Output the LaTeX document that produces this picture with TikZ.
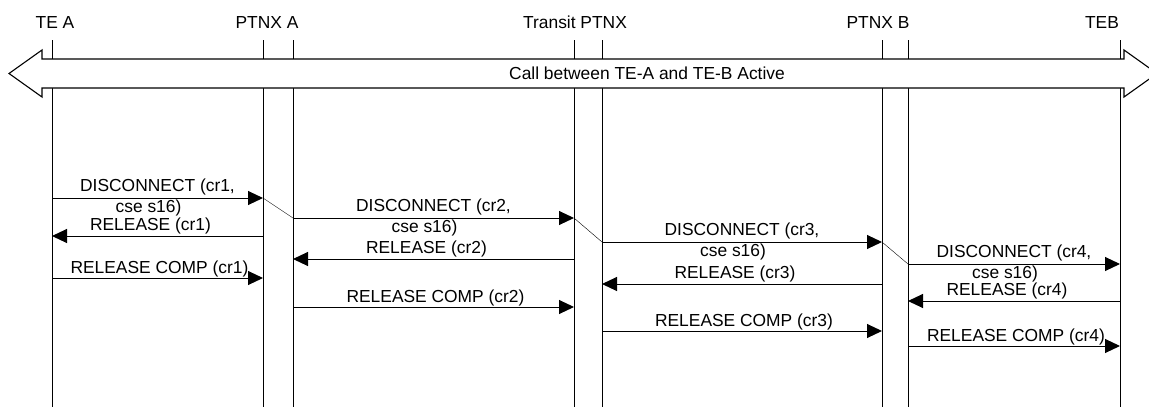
\documentclass[tikz,border=0pt]{standalone}
\usepackage{fontspec}
\setmainfont{Liberation Sans}
\usetikzlibrary{arrows.meta}

\begin{document}
\begin{tikzpicture}[x=1pt, y=-1pt,
  every node/.style={font=\fontsize{17.4}{20}\selectfont, inner sep=0pt},
  life/.style={draw=black, line width=0.7pt},
  band/.style={draw=black, line width=1.1pt, fill=white, line join=miter},
  msg/.style ={-{Triangle[length=15pt,width=14pt]}, line width=1pt},
  hop/.style ={draw=black, line width=0.4pt},
]

\useasboundingbox (0,0) rectangle (1149,407);

%% ─── Lifelines ───────────────────────────────────────────────────────────────
\foreach \n/\x in {TEA/52, PAl/263, PAr/293, TPl/574, TPr/602, PBl/882, PBr/908, TEB/1120} {
  \coordinate (\n) at (\x,40);
  \draw[life] (\n) -- (\x,407);
}

%% ─── Entity names ────────────────────────────────────────────────────────────
\node[anchor=base] (hTEA) at (55,28)   {TE A};
\node[anchor=base] (hPA)  at (267,28)  {PTNX A};
\node[anchor=base] (hTP)  at (575,28)  {Transit PTNX};
\node[anchor=base] (hPB)  at (878,28)  {PTNX B};
\node[anchor=base] (hTEB) at (1102,28) {TEB};

%% ─── Active call (hollow double arrow over the lifelines) ────────────────────
\draw[band] (9,73.5) -- (42,50) -- (42,59) -- (1124,59) -- (1124,50) -- (1157,73.5)
  -- (1124,97) -- (1124,88) -- (42,88) -- (42,97) -- cycle;
\node (call) at (647,73.5) {Call between TE-A and TE-B Active};

%% ─── Clearing, one hop at a time ─────────────────────────────────────────────
\foreach \a/\b/\k/\yd/\yr/\yc in {TEA/PAl/1/198/236/278, PAr/TPl/2/218/259/307,
                                  TPr/PBl/3/242/284/331, PBr/TEB/4/264/301/346} {
  % DISCONNECT forward
  \draw[msg] (\a |- 0,\yd) coordinate (ds\k)
    -- node[anchor=base, yshift=7pt] {DISCONNECT (cr\k,}
       node[anchor=base, yshift=-14pt, xshift=-9pt] {cse s16)}
    (\b |- 0,\yd) coordinate (de\k);
  % RELEASE back
  \draw[msg] (\b |- 0,\yr)
    -- node[anchor=base, yshift=6pt, xshift=-7pt] {RELEASE (cr\k)} (\a |- 0,\yr);
  % RELEASE COMP forward
  \draw[msg] (\a |- 0,\yc)
    -- node[anchor=base, yshift=5pt, xshift=2pt] {RELEASE COMP (cr\k)} (\b |- 0,\yc);
}

%% DISCONNECT passed on through each PTNX
\foreach \i/\j in {1/2, 2/3, 3/4} { \draw[hop] (de\i) -- (ds\j); }

\end{tikzpicture}
\end{document}
